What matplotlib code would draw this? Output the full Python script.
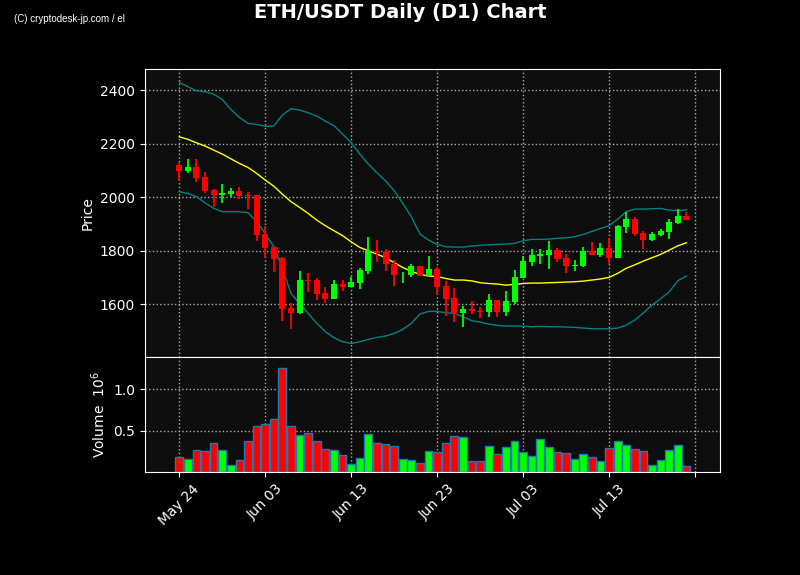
import matplotlib
matplotlib.use("Agg")
import matplotlib.pyplot as plt
import matplotlib.dates as mdates
import numpy as np
import datetime as dt

# daily candles, May 24 .. Jul 22
start = dt.date(2021, 5, 24)
dates = [start + dt.timedelta(days=i) for i in range(60)]

opens = [2119.6, 2099.6, 2112, 2076, 2027.5, 2010, 2013.7, 2023.6, 2010, 2008.7,
         1862.9, 1814.3, 1773.2, 1586.3, 1566.3, 1691, 1691, 1642.4, 1620, 1676,
         1664.8, 1681, 1726, 1800.6, 1795.6, 1752, 1712, 1709.6, 1743, 1706,
         1732, 1668.5, 1623.7, 1568.8, 1582.5, 1575, 1572.6, 1616, 1572.6, 1610,
         1699.7, 1759.5, 1782, 1784.4, 1803, 1773.2, 1744.5, 1744.5, 1800.6, 1785.6,
         1810.6, 1774.5, 1890.3, 1919, 1866.6, 1841.7, 1860.4, 1871.6, 1904, 1930]
highs = [2129.5, 2142, 2142, 2096, 2031, 2048.5, 2033.6, 2037.3, 2021, 2008.7,
         1894, 1814.3, 1775.7, 1603.7, 1723.3, 1716, 1697, 1666, 1693, 1693,
         1701, 1734.6, 1850.5, 1839, 1808, 1764.5, 1721, 1750.8, 1743, 1781,
         1738, 1688.5, 1660, 1593.8, 1611, 1588.8, 1637.4, 1616, 1648.6, 1727,
         1780.7, 1808, 1808, 1835.5, 1811.8, 1787, 1764.5, 1813, 1833, 1829,
         1846.7, 1896.6, 1945, 1927.7, 1872.9, 1869, 1881.6, 1917.7, 1956.3, 1943.9]
lows = [2062, 2092, 2056, 2015, 1965, 1978, 2002.4, 1992.5, 1955, 1838,
        1772, 1719.6, 1539, 1506.5, 1564, 1645, 1616, 1603.7, 1620, 1651,
        1664.8, 1656, 1712, 1757, 1726, 1670, 1678.5, 1703, 1706, 1706,
        1634, 1555, 1532.7, 1514, 1562.6, 1547.6, 1551.4, 1551, 1555, 1600,
        1699.7, 1744.5, 1751, 1731, 1757, 1716, 1724.6, 1738, 1785.6, 1778,
        1751, 1774.5, 1865.4, 1856.7, 1805.6, 1838, 1856.7, 1843, 1901.5, 1916.5]
closes = [2099.6, 2112, 2073.5, 2025, 2010, 2016, 2023.6, 2006, 2006, 1860.4,
          1811.8, 1769.5, 1582.6, 1567.6, 1691, 1687, 1640, 1620, 1676, 1665,
          1682, 1728.3, 1799.4, 1792, 1752, 1709.6, 1714.6, 1743.3, 1706, 1732,
          1666, 1621.2, 1568.8, 1581.3, 1573.8, 1572.6, 1616, 1572.6, 1612.5, 1702,
          1762, 1784.4, 1789.4, 1803, 1770.7, 1744.5, 1747, 1800.6, 1785.6, 1810.6,
          1774.5, 1894, 1919, 1864, 1841.7, 1862.9, 1874, 1907.7, 1930, 1916.5]

# volume in millions
volume = [0.187, 0.163, 0.27, 0.258, 0.353, 0.27, 0.091, 0.151, 0.369, 0.56,
          0.583, 0.643, 1.258, 0.56, 0.448, 0.472, 0.377, 0.282, 0.27, 0.202,
          0.103, 0.175, 0.464, 0.345, 0.333, 0.31, 0.163, 0.151, 0.115, 0.258,
          0.246, 0.353, 0.44, 0.417, 0.131, 0.131, 0.31, 0.214, 0.298, 0.369,
          0.238, 0.19, 0.393, 0.298, 0.238, 0.226, 0.163, 0.214, 0.179, 0.131,
          0.286, 0.369, 0.321, 0.274, 0.25, 0.083, 0.143, 0.262, 0.321, 0.071]

# 20-day SMA and Bollinger bands
sma = [2226.7, 2217, 2204.3, 2192, 2177, 2162, 2144.5, 2127, 2112, 2090,
       2065, 2042, 2012, 1984, 1962.6, 1940, 1915, 1894, 1875.4, 1857,
       1834, 1813, 1800.6, 1788, 1774.5, 1756, 1738, 1723.3, 1712, 1706,
       1704, 1697, 1691, 1691, 1688, 1681, 1678, 1676, 1672, 1674.7,
       1678, 1679.7, 1679.7, 1681, 1682, 1683.5, 1684.7, 1687, 1691, 1695,
       1701, 1716, 1735, 1748, 1762, 1774.5, 1787, 1803, 1819, 1830.5]
upper = [2430, 2413.6, 2398.7, 2395, 2386, 2366, 2329, 2299, 2276.6, 2273,
         2265.4, 2266.6, 2307.7, 2331.4, 2326.4, 2316.4, 2304, 2285.3, 2268, 2236.7,
         2204.3, 2162, 2124.5, 2092, 2062, 2025, 1977.5, 1927.7, 1863, 1840.5,
         1824.3, 1815.5, 1814.3, 1814.3, 1818, 1820.5, 1823, 1824, 1825.5, 1828,
         1838, 1843, 1843, 1844, 1847, 1849, 1853, 1861.6, 1872.9, 1884,
         1894, 1919, 1946.4, 1956.3, 1956.3, 1957.6, 1958.8, 1952.6, 1950, 1954]
lower = [2021.1, 2015, 2002.4, 1980, 1959, 1946.4, 1946.4, 1946.4, 1942.6, 1909,
         1865.4, 1815.5, 1734.6, 1641, 1603.7, 1566.3, 1529, 1497.8, 1475.4, 1460.4,
         1454, 1460.4, 1469, 1476.6, 1481.6, 1491.6, 1506.5, 1529, 1564, 1573.8,
         1573.8, 1568.8, 1566.3, 1554, 1539, 1534, 1526.5, 1521.5, 1519, 1519,
         1519, 1516.5, 1517.8, 1516.5, 1516.5, 1515.3, 1514, 1511.5, 1509, 1509,
         1509, 1511.5, 1522.7, 1541.4, 1568.8, 1597.5, 1621.2, 1647.4, 1688.5, 1706]

x = mdates.date2num(dates)
o = np.array(opens)
c = np.array(closes)
colors = np.where(c >= o, 'lime', 'red')

fig = plt.figure(figsize=(8, 5.75), dpi=100, facecolor='black')
ax = fig.add_axes([0.181, 0.379, 0.719, 0.501])
axv = fig.add_axes([0.181, 0.179, 0.719, 0.2], sharex=ax)

for a in (ax, axv):
    a.set_facecolor('#0d0d0d')
    for s in a.spines.values():
        s.set_color('white')
    a.tick_params(colors='white', labelsize=10)
    a.grid(True, color='#aaaaaa', linestyle=':', linewidth=1)
    a.set_axisbelow(True)

# bands
ax.plot(x, upper, color='#008080', linewidth=1)
ax.plot(x, lower, color='#008080', linewidth=1)
ax.plot(x, sma, color='yellow', linewidth=1)

# candles
ax.vlines(x, lows, highs, color=colors, linewidth=1.3, zorder=3)
ax.bar(x, np.abs(c - o), bottom=np.minimum(o, c), width=0.7, color=colors, zorder=4)

ax.set_ylim(1403, 2480)
ax.set_yticks([1600, 1800, 2000, 2200, 2400])
ax.set_ylabel('Price', color='white', fontsize=10)
plt.setp(ax.get_xticklabels(), visible=False)

# volume
axv.bar(x, volume, width=0.9, color=colors, edgecolor='#1f77b4', linewidth=1)
axv.set_ylim(0, 1.385)
axv.set_yticks([0.5, 1.0])
axv.set_ylabel('Volume  $10^{6}$', color='white', fontsize=10)

ticks = [start + dt.timedelta(days=10 * k) for k in range(7)]
tick_labels = [t.strftime('%b %d') for t in ticks[:-1]] + ['']
axv.set_xticks(mdates.date2num(ticks))
axv.set_xticklabels(tick_labels, rotation=45)
axv.set_xlim(x[0] - 4.0, x[0] + 62.9)

fig.suptitle('ETH/USDT Daily (D1) Chart', color='white', fontsize=14,
             fontweight='bold', y=0.995)
fig.text(0.018, 0.962, '(C) cryptodesk-jp.com / el', color='white', fontsize=7,
         family=['Liberation Sans Narrow', 'Liberation Sans', 'DejaVu Sans'])

fig.savefig('out.png', dpi=100, facecolor='black')
